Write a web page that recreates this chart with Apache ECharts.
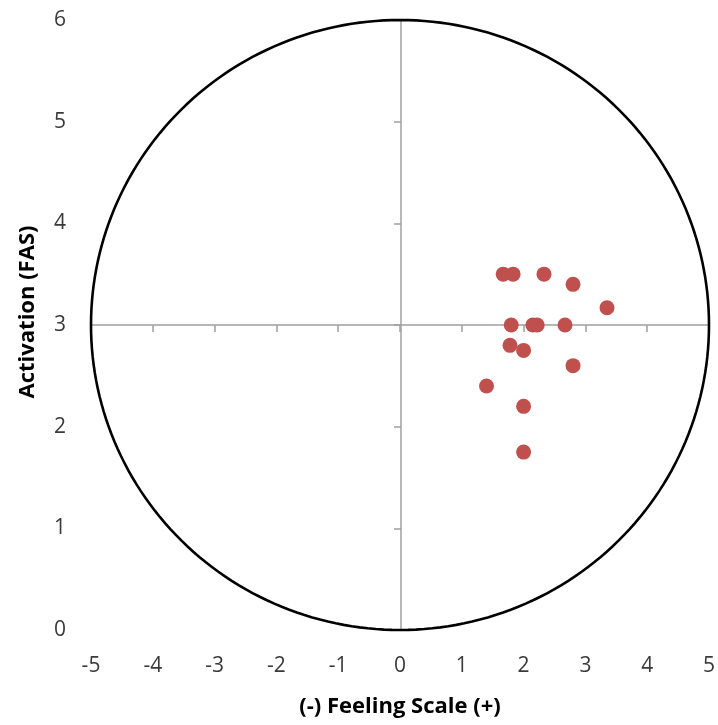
<!DOCTYPE html>
<html>
<head>
<meta charset="utf-8">
<script src="https://cdn.jsdelivr.net/npm/echarts@6/dist/echarts.min.js"></script>
<style>
  html, body { margin: 0; padding: 0; background: #fff; }
  #chart { width: 718px; height: 725px; }
</style>
</head>
<body>
<div id="chart"></div>
<script>
// Feeling Scale (x) vs Felt Arousal Scale (y) readings
const feeling    = [1.67, 1.83, 2.33, 2.80, 3.35, 1.80, 2.15, 2.22, 2.67, 1.78, 2.00, 2.80, 1.40, 2.00, 2.00];
const activation = [3.50, 3.50, 3.50, 3.40, 3.17, 3.00, 3.00, 3.00, 3.00, 2.80, 2.75, 2.60, 2.40, 2.20, 1.75];

// Axis ranges and the centre of the circumplex
const xRange = [-5, 5];
const yRange = [0, 6];
const centre = [0, 3];

const points = feeling.map((v, i) => [v, activation[i]]);

// Grid box in pixels
const gridLeft = 91, gridRight = 7, gridTop = 20, gridBottom = 95;
const gridW = 718 - gridLeft - gridRight;
const gridH = 725 - gridTop - gridBottom;

const labelFont = { fontFamily: 'Open Sans, Liberation Sans, sans-serif', fontSize: 21, color: '#3a3a3a' };
const titleFont = { fontFamily: 'Open Sans, Liberation Sans, sans-serif', fontSize: 22, fontWeight: 'bold', color: '#000' };

const chart = echarts.init(document.getElementById('chart'), null, { renderer: 'canvas' });

chart.setOption({
  animation: false,
  backgroundColor: '#fff',
  grid: { left: gridLeft, right: gridRight, top: gridTop, bottom: gridBottom, containLabel: false },
  xAxis: [
    {
      type: 'value', min: xRange[0], max: xRange[1], interval: 1,
      position: 'bottom',
      name: '(-) Feeling Scale (+)', nameLocation: 'middle', nameGap: 66,
      nameTextStyle: titleFont,
      axisLine: { show: false }, axisTick: { show: false },
      axisLabel: Object.assign({ margin: 26 }, labelFont),
      splitLine: { show: false }
    },
    {
      // crossing axis through activation = 3
      type: 'value', min: xRange[0], max: xRange[1], interval: 1,
      position: 'bottom', offset: -gridH / 2,
      axisLine: { show: true, onZero: false, lineStyle: { color: '#a0a0a0', width: 1.5 } },
      axisTick: { show: true, length: 7, lineStyle: { color: '#a0a0a0', width: 1.5 } },
      axisLabel: { show: false }, splitLine: { show: false }
    }
  ],
  yAxis: [
    {
      type: 'value', min: yRange[0], max: yRange[1], interval: 1,
      position: 'left',
      name: 'Activation (FAS)', nameLocation: 'middle', nameGap: 52,
      nameTextStyle: Object.assign({ padding: [0, 0, 0, 26] }, titleFont),
      axisLine: { show: false }, axisTick: { show: false },
      axisLabel: Object.assign({ margin: 25 }, labelFont),
      splitLine: { show: false }
    },
    {
      // crossing axis through feeling = 0
      type: 'value', min: yRange[0], max: yRange[1], interval: 1,
      position: 'left', offset: -gridW / 2,
      axisLine: { show: true, onZero: false, lineStyle: { color: '#a0a0a0', width: 1.5 } },
      axisTick: { show: true, length: 7, lineStyle: { color: '#a0a0a0', width: 1.5 } },
      axisLabel: { show: false }, splitLine: { show: false }
    }
  ],
  series: [
    {
      // circumplex boundary around the centre
      type: 'custom',
      silent: true,
      xAxisIndex: 0, yAxisIndex: 0,
      data: [centre],
      clip: false,
      z: 1,
      renderItem: function (params, api) {
        const rx = (xRange[1] - xRange[0]) / 2;
        const ry = (yRange[1] - yRange[0]) / 2;
        const pts = [];
        const n = 240;
        for (let i = 0; i <= n; i++) {
          const t = (i / n) * Math.PI * 2;
          pts.push(api.coord([api.value(0) + rx * Math.cos(t), api.value(1) + ry * Math.sin(t)]));
        }
        return {
          type: 'polyline',
          shape: { points: pts },
          style: { stroke: '#000', lineWidth: 2.6, fill: null }
        };
      }
    },
    {
      type: 'scatter',
      xAxisIndex: 0, yAxisIndex: 0,
      data: points,
      symbol: 'circle',
      symbolSize: 15,
      itemStyle: { color: '#C0504D', opacity: 1 },
      z: 5
    }
  ]
});
</script>
</body>
</html>
